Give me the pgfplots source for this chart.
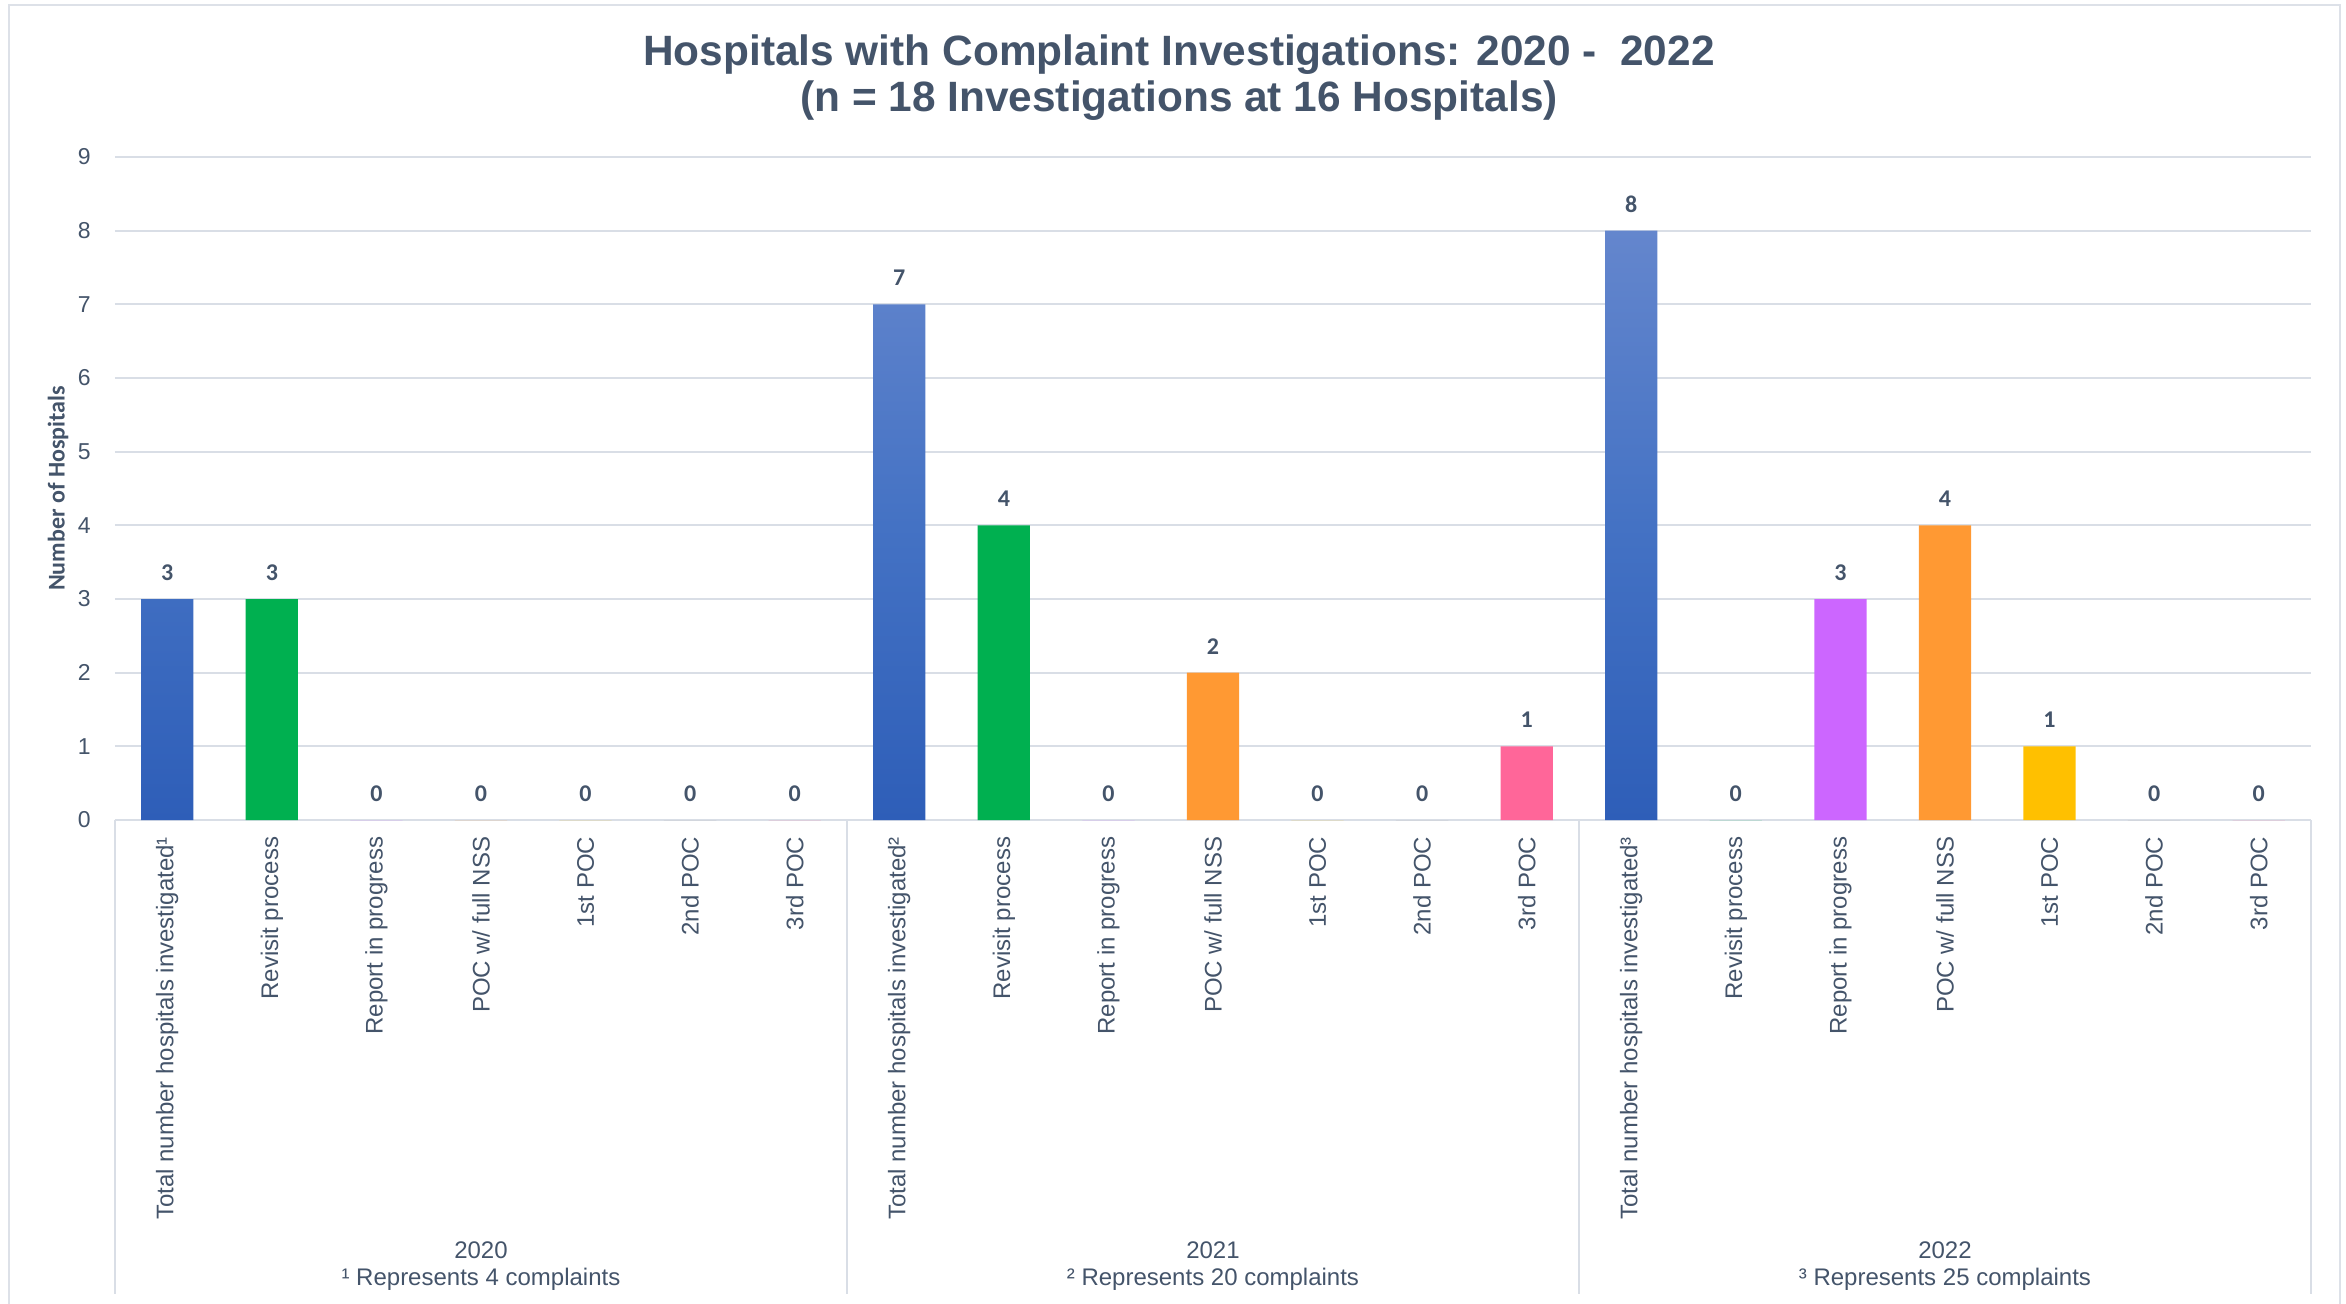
\documentclass[border=0pt]{standalone}
\usepackage{pgfplots}
\pgfplotsset{compat=1.18}
\usepackage{fontspec}
\setmainfont{Liberation Sans}
\newfontfamily\calibri{Carlito}
\definecolor{txt}{HTML}{44546A}
\definecolor{gridc}{HTML}{D9DEE6}
\definecolor{borderc}{HTML}{DDE1E8}
\definecolor{cgreen}{HTML}{00B050}
\definecolor{cpurple}{HTML}{CC66FF}
\definecolor{corange}{HTML}{FF9933}
\definecolor{cyellow}{HTML}{FFC000}
\definecolor{cpink}{HTML}{FF6699}
\definecolor{cgrey}{HTML}{A5A5A5}
\definecolor{btop}{HTML}{6486CD}
\definecolor{bmid}{HTML}{4472C4}
\definecolor{bbot}{HTML}{2E5EB8}
\begin{document}
\begin{tikzpicture}
\path[use as bounding box] (0,0) rectangle (1173pt,-652pt);
\draw[borderc, line width=1pt] (4.5pt,-652pt) -- (4.5pt,-2.5pt) -- (1170pt,-2.5pt) -- (1170pt,-652pt);
\node[anchor=base, inner sep=0pt, font=\fontsize{21.2}{24}\selectfont\bfseries, text=txt] at (589.5pt,-33pt) {Hospitals with Complaint Investigations: 2020 -\ \ 2022};
\node[anchor=base, inner sep=0pt, font=\fontsize{21.2}{24}\selectfont\bfseries, text=txt] at (589.5pt,-56pt) {(n = 18 Investigations at 16 Hospitals)};
\begin{axis}[
  at={(57.5pt,-410pt)}, anchor=south west,
  width=1098pt, height=331.5pt, scale only axis,
  xmin=-0.5, xmax=20.5, ymin=0, ymax=9,
  ytick={0,1,...,9},
  xtick={0,1,...,20},
  xticklabels={{Total number hospitals investigated¹},{Revisit process},{Report in progress},{POC w/ full NSS},{1st POC},{2nd POC},{3rd POC},
               {Total number hospitals investigated²},{Revisit process},{Report in progress},{POC w/ full NSS},{1st POC},{2nd POC},{3rd POC},
               {Total number hospitals investigated³},{Revisit process},{Report in progress},{POC w/ full NSS},{1st POC},{2nd POC},{3rd POC}},
  /pgf/number format/assume math mode=true,
  tick style={draw=none},
  separate axis lines,
  axis x line*=bottom, axis y line*=left,
  x axis line style={gridc, line width=1pt, -},
  y axis line style={draw=none},
  ymajorgrids, grid style={gridc, line width=1pt},
  yticklabel style={font=\fontsize{11.5}{13}\selectfont, text=txt, inner sep=0pt, xshift=-12pt},
  xticklabel style={font=\fontsize{12}{14}\selectfont, text=txt, inner sep=0pt, yshift=-4pt, rotate=90, anchor=east},
  ylabel={Number of Hospitals},
  every axis y label/.style={at={(axis description cs:0,0.5)}, xshift=-28.5pt, rotate=90, anchor=center, font=\calibri\fontsize{12}{14}\selectfont\bfseries, text=txt},
  ybar, bar width=0.5, bar shift=0pt,
  nodes near coords,
  every node near coord/.append style={font=\calibri\fontsize{12}{14}\selectfont\bfseries, text=txt, inner sep=0pt, yshift=9pt, anchor=south},
  clip=false,
]
\addplot[draw=none, top color=btop, bottom color=bbot, middle color=bmid] coordinates {(0,3) (7,7) (14,8)};
\addplot[draw=none, fill=cgreen] coordinates {(1,3) (8,4) (15,0)};
\addplot[draw=none, fill=cpurple] coordinates {(2,0) (9,0) (16,3)};
\addplot[draw=none, fill=corange] coordinates {(3,0) (10,2) (17,4)};
\addplot[draw=none, fill=cyellow] coordinates {(4,0) (11,0) (18,1)};
\addplot[draw=none, fill=cgrey] coordinates {(5,0) (12,0) (19,0)};
\addplot[draw=none, fill=cpink] coordinates {(6,0) (13,1) (20,0)};
\draw[gridc, line width=1pt] (axis cs:-0.5,0) -- ++(0pt,-237pt);
\draw[gridc, line width=1pt] (axis cs:6.5,0) -- ++(0pt,-237pt);
\draw[gridc, line width=1pt] (axis cs:13.5,0) -- ++(0pt,-237pt);
\draw[gridc, line width=1pt] (axis cs:20.5,0) -- ++(0pt,-237pt);
\node[anchor=base, inner sep=0pt, font=\fontsize{12}{14}\selectfont, text=txt] at (axis cs:3,0) [yshift=-219pt] {2020};
\node[anchor=base, inner sep=0pt, font=\fontsize{12}{14}\selectfont, text=txt] at (axis cs:3,0) [yshift=-232.5pt] {¹ Represents 4 complaints};
\node[anchor=base, inner sep=0pt, font=\fontsize{12}{14}\selectfont, text=txt] at (axis cs:10,0) [yshift=-219pt] {2021};
\node[anchor=base, inner sep=0pt, font=\fontsize{12}{14}\selectfont, text=txt] at (axis cs:10,0) [yshift=-232.5pt] {² Represents 20 complaints};
\node[anchor=base, inner sep=0pt, font=\fontsize{12}{14}\selectfont, text=txt] at (axis cs:17,0) [yshift=-219pt] {2022};
\node[anchor=base, inner sep=0pt, font=\fontsize{12}{14}\selectfont, text=txt] at (axis cs:17,0) [yshift=-232.5pt] {³ Represents 25 complaints};
\end{axis}
\end{tikzpicture}
\end{document}
